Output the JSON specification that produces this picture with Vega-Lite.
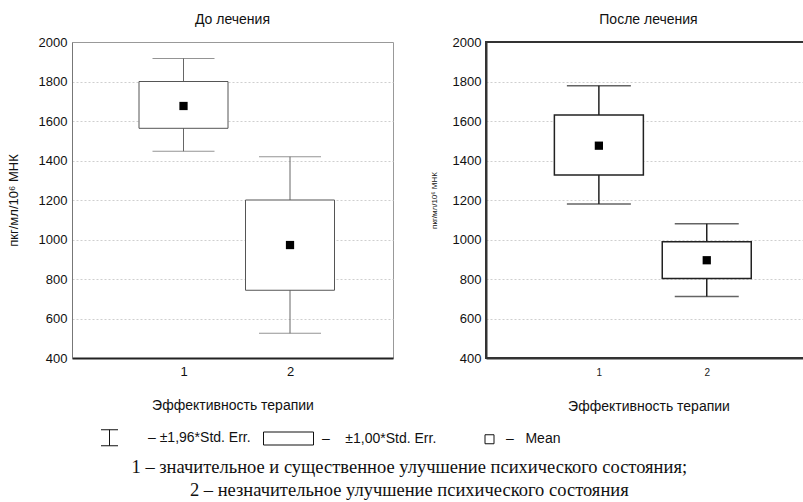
{
  "$schema": "https://vega.github.io/schema/vega-lite/v6.json",
  "padding": {"left": 6, "top": 12, "right": 0, "bottom": 0},
  "background": "white",
  "bounds": "flush",
  "spacing": 93,
  "config": {
    "font": "Liberation Sans",
    "view": {"stroke": null}
  },
  "datasets": {
    "stats": [
      {"panel": "before", "group": 1, "lo196": 1447, "lo1": 1563, "mean": 1676, "hi1": 1800, "hi196": 1917},
      {"panel": "before", "group": 2, "lo196": 525, "lo1": 743, "mean": 972, "hi1": 1200, "hi196": 1419},
      {"panel": "after", "group": 1, "lo196": 1180, "lo1": 1327, "mean": 1475, "hi1": 1630, "hi196": 1778},
      {"panel": "after", "group": 2, "lo196": 711, "lo1": 803, "mean": 895, "hi1": 988, "hi196": 1080}
    ]
  },
  "title": {
    "text": [
      "1 – значительное и существенное улучшение психического состояния;",
      "2 – незначительное улучшение психического состояния"
    ],
    "orient": "bottom",
    "anchor": "middle",
    "font": "Liberation Serif",
    "fontSize": 18.5,
    "fontWeight": "normal",
    "color": "#111",
    "lineHeight": 23,
    "offset": 10
  },
  "hconcat": [
    {
      "width": 321,
      "height": 316,
      "title": {"text": "До лечения", "fontSize": 14, "fontWeight": "normal", "color": "#111", "offset": 9},
      "view": {"stroke": "#999", "strokeWidth": 1},
      "data": {"name": "stats"},
      "transform": [{"filter": "datum.panel == 'before'"}],
      "encoding": {
        "x": {
          "field": "group",
          "type": "quantitative",
          "scale": {"domain": [0, 2.92], "nice": false, "zero": false},
          "axis": {
            "values": [1, 2], "format": "d", "grid": false, "ticks": false,
            "domainColor": "#222", "domainWidth": 2,
            "labelFontSize": 13, "labelColor": "#111", "labelPadding": 7,
            "title": "Эффективность терапии", "titleFontSize": 14, "titleFontWeight": "normal",
            "titleColor": "#111", "titlePadding": 20
          }
        }
      },
      "layer": [
        {
          "mark": {"type": "rule", "color": "#666", "strokeWidth": 1},
          "encoding": {
            "y": {
              "field": "lo196", "type": "quantitative",
              "scale": {"domain": [400, 2000], "nice": false, "zero": false},
              "axis": {
                "values": [400, 600, 800, 1000, 1200, 1400, 1600, 1800, 2000],
                "format": "d", "labelOverlap": false,
                "grid": true, "gridColor": "#cfcfcf", "gridDash": [2, 2],
                "gridOpacity": {"condition": {"test": "datum.value == 400 || datum.value == 2000", "value": 0}, "value": 1},
                "ticks": false, "domainColor": "#777",
                "labelFontSize": 13, "labelColor": "#111", "labelPadding": 5,
                "title": "пкг/мл/10⁶ МНК", "titleFontSize": 13, "titleFontWeight": "normal",
                "titleColor": "#111", "titlePadding": 18
              }
            },
            "y2": {"field": "hi196"}
          }
        },
        {
          "mark": {"type": "tick", "orient": "horizontal", "size": 62, "thickness": 1, "color": "#666"},
          "encoding": {
            "y": {
              "field": "hi196", "type": "quantitative",
              "axis": {"values": [400, 600, 800, 1000, 1200, 1400, 1600, 1800, 2000], "title": "пкг/мл/10⁶ МНК"}
            }
          }
        },
        {
          "mark": {"type": "tick", "orient": "horizontal", "size": 62, "thickness": 1, "color": "#666"},
          "encoding": {
            "y": {
              "field": "lo196", "type": "quantitative",
              "axis": {"values": [400, 600, 800, 1000, 1200, 1400, 1600, 1800, 2000], "title": "пкг/мл/10⁶ МНК"}
            }
          }
        },
        {
          "mark": {"type": "bar", "width": 89, "fill": "white", "stroke": "#555", "strokeWidth": 1},
          "encoding": {
            "y": {
              "field": "lo1", "type": "quantitative",
              "axis": {"values": [400, 600, 800, 1000, 1200, 1400, 1600, 1800, 2000], "title": "пкг/мл/10⁶ МНК"}
            },
            "y2": {"field": "hi1"}
          }
        },
        {
          "mark": {"type": "point", "shape": "square", "filled": true, "color": "black", "opacity": 1, "size": 68},
          "encoding": {
            "y": {
              "field": "mean", "type": "quantitative",
              "axis": {"values": [400, 600, 800, 1000, 1200, 1400, 1600, 1800, 2000], "title": "пкг/мл/10⁶ МНК"}
            }
          }
        },
        {
          "description": "Key of the three glyphs; this layer keeps no rows and only carries the legend.",
          "transform": [{"filter": "false"}],
          "mark": {"type": "point", "filled": false, "color": "#111", "strokeWidth": 1, "opacity": 1, "size": 2500},
          "encoding": {
            "y": {
              "field": "mean", "type": "quantitative",
              "axis": {"values": [400, 600, 800, 1000, 1200, 1400, 1600, 1800, 2000], "title": "пкг/мл/10⁶ МНК"}
            },
            "shape": {
              "datum": "Mean",
              "scale": {
                "domain": ["±1,96*Std. Err.", "±1,00*Std. Err.", "Mean"],
                "range": [
                  "M-0.54,-0.32H0.14M-0.2,-0.32V0.32M-0.54,0.32H0.14",
                  "M-1,-0.26H1V0.26H-1Z",
                  "M0.5,-0.18H0.86V0.18H0.5Z"
                ]
              },
              "legend": {
                "orient": "none", "legendX": 17, "legendY": 370,
                "direction": "horizontal", "title": null,
                "symbolSize": 2500, "symbolStrokeWidth": 1,
                "symbolFillColor": "transparent", "symbolStrokeColor": "#111",
                "labelFont": "Liberation Sans", "labelFontSize": 14, "labelColor": "#111",
                "labelOffset": 8, "columnPadding": 10,
                "labelExpr": "datum.label == 'Mean' ? '–\u00a0\u00a0\u00a0Mean' : (datum.label == '±1,00*Std. Err.' ? '–\u00a0\u00a0\u00a0\u00a0' + datum.label : '–\u00a0' + datum.label)"
              }
            }
          }
        }
      ]
    },
    {
      "width": 325,
      "height": 316,
      "title": {"text": "После лечения", "fontSize": 14, "fontWeight": "normal", "color": "#111", "offset": 9},
      "view": {"stroke": "#333", "strokeWidth": 2},
      "data": {"name": "stats"},
      "transform": [{"filter": "datum.panel == 'after'"}],
      "encoding": {
        "x": {
          "field": "group",
          "type": "quantitative",
          "scale": {"domain": [0, 2.92], "nice": false, "zero": false},
          "axis": {
            "values": [1, 2], "format": "d", "grid": false, "ticks": false,
            "domainColor": "#333", "domainWidth": 2,
            "labelFontSize": 10, "labelColor": "#222", "labelPadding": 9,
            "title": "Эффективность терапии", "titleFontSize": 14, "titleFontWeight": "normal",
            "titleColor": "#111", "titlePadding": 22
          }
        }
      },
      "layer": [
        {
          "mark": {"type": "rule", "color": "#222", "strokeWidth": 1.5},
          "encoding": {
            "y": {
              "field": "lo196", "type": "quantitative",
              "scale": {"domain": [400, 2000], "nice": false, "zero": false},
              "axis": {
                "values": [400, 600, 800, 1000, 1200, 1400, 1600, 1800, 2000],
                "format": "d", "labelOverlap": false,
                "grid": true, "gridColor": "#cfcfcf", "gridDash": [2, 2],
                "gridOpacity": {"condition": {"test": "datum.value == 400 || datum.value == 2000", "value": 0}, "value": 1},
                "ticks": false, "domainColor": "#333", "domainWidth": 2,
                "labelFontSize": 13, "labelColor": "#111", "labelPadding": 5,
                "title": "пкг/мл/10⁶ МНК", "titleFontSize": 8, "titleFontWeight": "normal",
                "titleColor": "#111", "titlePadding": 14
              }
            },
            "y2": {"field": "hi196"}
          }
        },
        {
          "mark": {"type": "tick", "orient": "horizontal", "size": 64, "thickness": 1.5, "color": "#222"},
          "encoding": {
            "y": {
              "field": "hi196", "type": "quantitative",
              "axis": {"values": [400, 600, 800, 1000, 1200, 1400, 1600, 1800, 2000], "title": "пкг/мл/10⁶ МНК"}
            }
          }
        },
        {
          "mark": {"type": "tick", "orient": "horizontal", "size": 64, "thickness": 1.5, "color": "#222"},
          "encoding": {
            "y": {
              "field": "lo196", "type": "quantitative",
              "axis": {"values": [400, 600, 800, 1000, 1200, 1400, 1600, 1800, 2000], "title": "пкг/мл/10⁶ МНК"}
            }
          }
        },
        {
          "mark": {"type": "bar", "width": 89, "fill": "white", "stroke": "#222", "strokeWidth": 1.5},
          "encoding": {
            "y": {
              "field": "lo1", "type": "quantitative",
              "axis": {"values": [400, 600, 800, 1000, 1200, 1400, 1600, 1800, 2000], "title": "пкг/мл/10⁶ МНК"}
            },
            "y2": {"field": "hi1"}
          }
        },
        {
          "mark": {"type": "point", "shape": "square", "filled": true, "color": "black", "opacity": 1, "size": 68},
          "encoding": {
            "y": {
              "field": "mean", "type": "quantitative",
              "axis": {"values": [400, 600, 800, 1000, 1200, 1400, 1600, 1800, 2000], "title": "пкг/мл/10⁶ МНК"}
            }
          }
        }
      ]
    }
  ]
}
